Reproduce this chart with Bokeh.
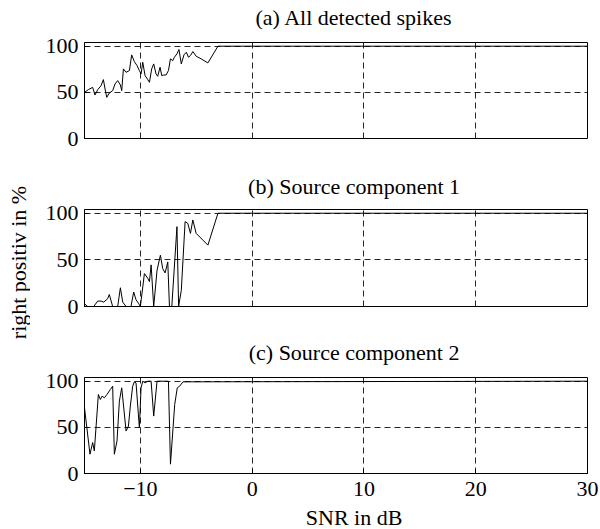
import math
from bokeh.plotting import figure
from bokeh.layouts import column, row
from bokeh.models import Range1d, FixedTicker, Label
from bokeh.embed import file_html
from bokeh.resources import INLINE

FONT = "Liberation Serif"

titles = ["(a) All detected spikes", "(b) Source component 1", "(c) Source component 2"]
x_label = "SNR in dB"
y_label = "right positiv in %"
x_ticks = [-10, 0, 10, 20, 30]
y_ticks = [0, 50, 100]

snr_a = [-15.0, -14.66, -14.27, -14.06, -13.82, -13.52, -13.31, -13.16, -13.01, -12.78,
         -12.48, -12.27, -12.03, -11.79, -11.67, -11.52, -11.28, -10.98, -10.78, -10.54,
         -10.30, -10.09, -9.94, -9.79, -9.58, -9.34, -9.19, -8.99, -8.81, -8.60,
         -8.45, -8.24, -8.09, -7.91, -7.70, -7.49, -7.31, -7.10, -6.96, -6.73,
         -6.55, -6.34, -6.10, -5.89, -5.70, -5.52, -5.30, -5.01, -4.55, -3.96,
         -3.06, 30]
right_a = [50, 52.9, 55.4, 47.1, 52.9, 57.2, 63.8, 53.6, 44.6, 49.3,
           51.8, 59.1, 62.7, 58.0, 51.8, 75.4, 71.7, 73.6, 90.6, 83.3,
           79.0, 73.6, 69.9, 82.6, 68.1, 63.8, 60.9, 75.4, 80.8, 69.9,
           67.4, 77.2, 68.1, 68.8, 68.8, 73.6, 86.2, 84.4, 88.0, 91.7,
           96.4, 80.8, 90.6, 93.5, 88.0, 89.9, 94.2, 89.1, 86.2, 81.9,
           100, 100]

snr_b = [-15.0, -14.72, -14.18, -13.82, -13.52, -13.28, -12.93, -12.78, -12.48, -12.03,
         -11.79, -11.58, -11.28, -10.84, -10.60, -10.39, -10.18, -10.0, -9.64, -9.34,
         -9.19, -9.04, -8.81, -8.51, -8.21, -8.0, -7.79, -7.55, -7.40, -7.19,
         -6.73, -6.58, -6.34, -6.0, -5.76, -5.52, -5.31, -5.01, -4.41, -3.96,
         -3.06, 30]
right_b = [2.9, 0, 0, 5.8, 5.8, 4.7, 8.3, 12.9, 0, 0,
           20.1, 4.7, 0, 0, 15.5, 7.2, 3.6, 0, 35.3, 30.2,
           26.6, 44.6, 0, 38.8, 55.0, 40.6, 36.0, 47.8, 0, 0,
           85.6, 0, 17.3, 91.0, 89.2, 78.4, 92.8, 78.4, 71.2, 65.8,
           100, 100]

snr_c = [-15.0, -14.51, -14.27, -14.12, -13.76, -13.58, -13.43, -13.22, -12.99, -12.69,
         -12.48, -12.33, -12.09, -11.88, -11.67, -11.28, -11.07, -10.90, -10.69, -10.54,
         -10.39, -10.09, -9.94, -9.79, -9.58, -9.34, -9.04, -8.81, -8.51, -7.49,
         -7.31, -6.93, -6.70, -6.49, -6.19, 30]
right_c = [71.2, 20.9, 33.5, 24.5, 85.6, 80.2, 83.8, 82.0, 85.6, 91.0,
           94.6, 20.9, 35.3, 78.4, 92.8, 46.0, 51.4, 73.0, 94.6, 99.3,
           98.2, 49.6, 92.8, 100, 98.2, 100, 100, 62.2, 100, 100,
           10.1, 74.8, 92.8, 94.6, 99.3, 100]

LEFT_W = 30
COL_W = 600 - LEFT_W
BORDER_L = 84 - LEFT_W
BORDER_R = 13
FRAME_CX = BORDER_L + (COL_W - BORDER_L - BORDER_R) / 2.0


def strip(text, width, height, x, y, angle=0.0):
    """A blank figure used only to hold one text (titles / axis titles)."""
    s = figure(width=width, height=height, x_range=Range1d(0, width), y_range=Range1d(0, height),
               output_backend="svg", toolbar_location=None, min_border=0,
               x_axis_location=None, y_axis_location=None)
    s.grid.visible = False
    s.outline_line_color = None
    s.background_fill_color = "white"
    s.border_fill_color = "white"
    s.add_layout(Label(x=x, y=y, text=text, angle=angle,
                       text_align="center", text_baseline="middle",
                       text_font=FONT, text_font_size="22px", text_color="black"))
    return s


def panel(x, y, height, top, bottom, show_x=False):
    p = figure(width=COL_W, height=height, x_range=Range1d(-15, 30), y_range=Range1d(0, 104),
               output_backend="svg", toolbar_location=None,
               min_border_left=BORDER_L, min_border_right=BORDER_R, min_border_top=top,
               min_border_bottom=bottom)
    p.line(x, y, line_color="black", line_width=1)
    p.outline_line_color = "black"
    p.outline_line_width = 1
    p.outline_line_alpha = 1
    p.background_fill_color = "white"
    p.border_fill_color = "white"

    p.xaxis.ticker = FixedTicker(ticks=x_ticks)
    p.yaxis.ticker = FixedTicker(ticks=y_ticks)
    for ax in (p.xaxis, p.yaxis):
        ax.major_tick_in = 4
        ax.major_tick_out = 0
        ax.minor_tick_line_color = None
        ax.axis_line_color = "black"
        ax.major_tick_line_color = "black"
        ax.major_label_text_font = FONT
        ax.major_label_text_font_size = "22px"
        ax.major_label_text_color = "black"
    p.yaxis.major_label_standoff = 6
    if not show_x:
        p.xaxis.visible = False
    else:
        p.xaxis.major_label_standoff = 8

    p.xgrid.ticker = FixedTicker(ticks=[-10, 0, 10, 20])
    p.ygrid.ticker = FixedTicker(ticks=[50, 100])
    for g in (p.xgrid, p.ygrid):
        g.grid_line_color = "black"
        g.grid_line_dash = "6 4"
        g.grid_line_width = 1
        g.grid_line_alpha = 0.85
    return p


# vertical stack (page y):  title a 0-32 | panel a 32-170 (frame 42-138)
# title b 170-200 | panel b 200-334 (frame 209-306) | title c 334-365
# panel c 365-505 (frame 377-473) | x title 505-529
ta = strip(titles[0], COL_W, 32, FRAME_CX, 15)
pa = panel(snr_a, right_a, 138, 10, 32)
tb = strip(titles[1], COL_W, 30, FRAME_CX, 14)
pb = panel(snr_b, right_b, 134, 9, 28)
tc = strip(titles[2], COL_W, 31, FRAME_CX, 13)
pc = panel(snr_c, right_c, 140, 12, 32, show_x=True)
tx = strip(x_label, COL_W, 24, FRAME_CX, 12)

ty = strip(y_label, LEFT_W, 529, 18, 529 - 262, angle=math.pi / 2)

layout = row(ty, column(ta, pa, tb, pb, tc, pc, tx, spacing=0), spacing=0)
open("out.html", "w").write(file_html(layout, INLINE))
